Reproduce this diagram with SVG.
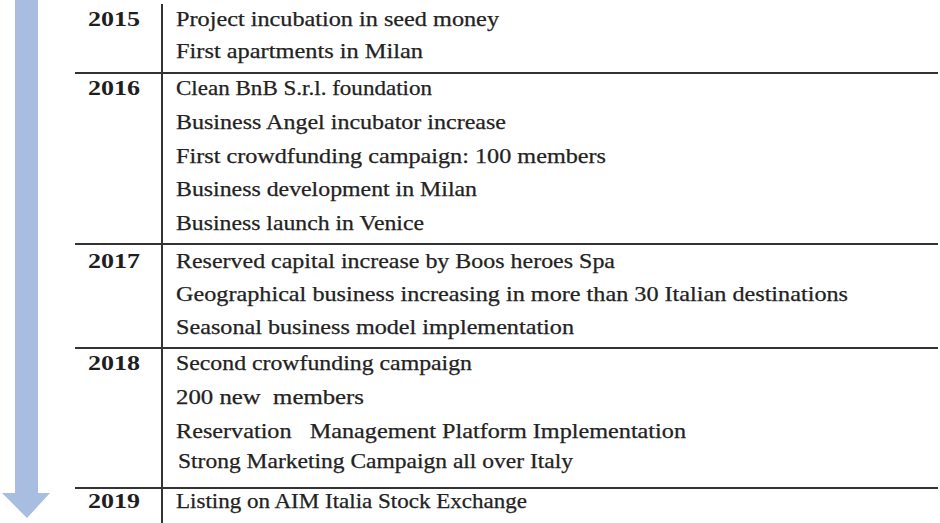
<svg xmlns="http://www.w3.org/2000/svg" width="940" height="523" viewBox="0 0 940 523">
<style>
.yr{font-family:"Liberation Serif",serif;font-weight:bold;font-size:21px;fill:#1e1e1e}
.tx{font-family:"Liberation Serif",serif;font-size:21px;fill:#222;stroke:#222;stroke-width:0.25}
.ln{stroke:#333;stroke-width:2;fill:none}
</style>
<rect width="940" height="523" fill="#fff"/>
<g id="arrow"><polygon points="15,0 38,0 38,493 50,493 27,518 2,493 15,493" fill="#a9bde0"/></g>
<g id="grid">
<line class="ln" x1="162" y1="4" x2="162" y2="523"/>
<line class="ln" x1="75" y1="73" x2="938" y2="73"/>
<line class="ln" x1="75" y1="244" x2="938" y2="244"/>
<line class="ln" x1="75" y1="348" x2="938" y2="348"/>
<line class="ln" x1="75" y1="488" x2="938" y2="488"/>
</g>
<g id="y2015"><text class="yr" x="88" y="26" textLength="52" lengthAdjust="spacingAndGlyphs">2015</text>
<text class="tx" x="176" y="26" textLength="323" lengthAdjust="spacingAndGlyphs">Project incubation in seed money</text>
<text class="tx" x="176" y="58" textLength="247" lengthAdjust="spacingAndGlyphs">First apartments in Milan</text></g>
<g id="y2016"><text class="yr" x="88" y="95" textLength="52" lengthAdjust="spacingAndGlyphs">2016</text>
<text class="tx" x="176" y="95" textLength="256" lengthAdjust="spacingAndGlyphs">Clean BnB S.r.l. foundation</text>
<text class="tx" x="176" y="129" textLength="330" lengthAdjust="spacingAndGlyphs">Business Angel incubator increase</text>
<text class="tx" x="176" y="163" textLength="430" lengthAdjust="spacingAndGlyphs">First crowdfunding campaign: 100 members</text>
<text class="tx" x="176" y="196" textLength="301" lengthAdjust="spacingAndGlyphs">Business development in Milan</text>
<text class="tx" x="176" y="230" textLength="248" lengthAdjust="spacingAndGlyphs">Business launch in Venice</text></g>
<g id="y2017"><text class="yr" x="88" y="268" textLength="52" lengthAdjust="spacingAndGlyphs">2017</text>
<text class="tx" x="176" y="268" textLength="439" lengthAdjust="spacingAndGlyphs">Reserved capital increase by Boos heroes Spa</text>
<text class="tx" x="176" y="301" textLength="672" lengthAdjust="spacingAndGlyphs">Geographical business increasing in more than 30 Italian destinations</text>
<text class="tx" x="176" y="334" textLength="398" lengthAdjust="spacingAndGlyphs">Seasonal business model implementation</text></g>
<g id="y2018"><text class="yr" x="88" y="370" textLength="52" lengthAdjust="spacingAndGlyphs">2018</text>
<text class="tx" x="176" y="370" textLength="296" lengthAdjust="spacingAndGlyphs">Second crowfunding campaign</text>
<text class="tx" x="176" y="404" textLength="188" lengthAdjust="spacingAndGlyphs" xml:space="preserve">200 new  members</text>
<text class="tx" x="176" y="438" textLength="510" lengthAdjust="spacingAndGlyphs" xml:space="preserve">Reservation   Management Platform Implementation</text>
<text class="tx" x="178" y="468" textLength="395" lengthAdjust="spacingAndGlyphs">Strong Marketing Campaign all over Italy</text></g>
<g id="y2019"><text class="yr" x="88" y="508" textLength="52" lengthAdjust="spacingAndGlyphs">2019</text>
<text class="tx" x="176" y="508" textLength="351" lengthAdjust="spacingAndGlyphs">Listing on AIM Italia Stock Exchange</text></g>
</svg>
